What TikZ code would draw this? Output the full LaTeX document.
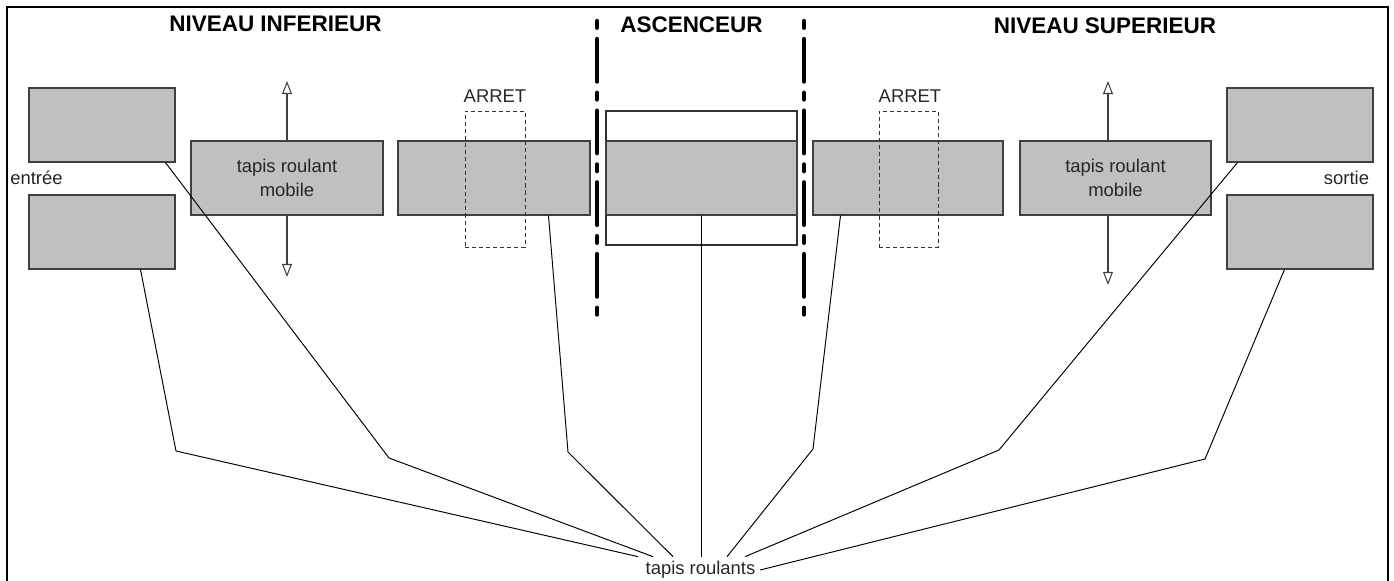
\documentclass[tikz,border=0pt]{standalone}
\usepackage{fontspec}
\setmainfont{Liberation Sans}
\usetikzlibrary{calc,arrows.meta}
\definecolor{beltgrey}{RGB}{192,192,192}
\definecolor{edgegrey}{RGB}{64,64,64}
\begin{document}
\begin{tikzpicture}[
    x=0.02cm, y=-0.02cm,
    belt/.style={rectangle, draw=edgegrey, fill=beltgrey, line width=0.6pt,
        minimum height=1.48cm, inner sep=0pt, align=center, text=black!85,
        font=\fontsize{10.5}{13.5}\selectfont},
    stopzone/.style={rectangle, draw=black!80, dash pattern=on 2.3pt off 1.7pt,
        line width=0.55pt, minimum width=1.2cm, minimum height=2.72cm, inner sep=0pt},
    cabin/.style={rectangle, draw=black!80, fill=white, line width=0.6pt,
        minimum width=3.82cm, minimum height=2.68cm, inner sep=0pt},
    level/.style={font=\bfseries\fontsize{12.8}{15}\selectfont, inner sep=0pt},
    tag/.style={font=\fontsize{10.5}{13.5}\selectfont, text=black!85, inner sep=0pt},
    wall/.style={line width=2.4pt, line cap=round,
        dash pattern=on 3.9pt off 6.3pt on 24.3pt off 6.3pt},
    link/.style={line width=0.55pt},
    move/.style={draw=edgegrey, line width=0.6pt,
        -{Triangle[open, length=7.4pt, width=5.6pt]}},
]
\useasboundingbox (0,0) rectangle (1394,581);
\draw[line width=1.1pt] (7,581) -- (7,7) -- (1388,7) -- (1388,581);

\node[level] (lowlevel) at (275.5,24) {NIVEAU INFERIEUR};
\node[level] (liftlevel) at (691.5,25) {ASCENCEUR};
\node[level] (highlevel) at (1105,26) {NIVEAU SUPERIEUR};

\node[belt, minimum width=2.92cm] (entreeA) at (102,125) {};
\node[belt, minimum width=2.92cm] (entreeB) at (102,232) {};
\node[tag] (entree) at (36.5,178) {entrée};
\node[belt, minimum width=3.84cm] (mobileL) at (287,178) {tapis roulant\\mobile};
\node[belt, minimum width=3.84cm] (beltL) at (494,178) {};
\node[stopzone] (stopL) at (495,179) {};
\node[tag] (arretL) at (495,96) {ARRET};

\node[cabin] (cabin) at (701.5,178) {};
\node[belt, minimum width=3.82cm] (lift) at (701.5,178) {};

\node[belt, minimum width=3.8cm] (beltR) at (908,178) {};
\node[stopzone, minimum width=1.18cm] (stopR) at (908.5,179) {};
\node[tag] (arretR) at (910,96) {ARRET};
\node[belt, minimum width=3.82cm] (mobileR) at (1115.5,178) {tapis roulant\\mobile};
\node[belt, minimum width=2.92cm] (sortieA) at (1300,125) {};
\node[belt, minimum width=2.92cm] (sortieB) at (1300,232) {};
\node[tag] (sortie) at (1346.5,178) {sortie};

\node[tag, inner sep=2.5pt] (tapis) at (700.5,570) {tapis roulants};

\draw[wall] (597,21) -- (597,322);
\draw[wall] (804,21) -- (804,322);

\coordinate (upL) at (287,81);
\coordinate (downL) at (287,277);
\coordinate (upR) at (1108,81);
\coordinate (downR) at (1108,285);
\draw[move] (mobileL.north) -- (upL);
\draw[move] (mobileL.south) -- (downL);
\draw[move] (mobileR.north -| upR) -- (upR);
\draw[move] (mobileR.south -| downR) -- (downR);

\draw[link] ($(entreeB.south west)+(112,0)$) -- (176,451) -- ($(tapis.north)+(-62.5,0)$);
\draw[link] ($(entreeA.south west)+(137,0)$) -- (389,458) -- ($(tapis.north)+(-47.5,0)$);
\draw[link] ($(beltL.south west)+(151,0)$) -- (568,452) -- ($(tapis.north)+(-27.5,0)$);
\draw[link] (lift.south) -- (lift.south |- tapis.north);
\draw[link] ($(beltR.south west)+(28,0)$) -- (813,449) -- ($(tapis.north)+(26.5,0)$);
\draw[link] ($(sortieA.south west)+(11,0)$) -- (999,450) -- ($(tapis.north)+(44.5,0)$);
\draw[link] ($(sortieB.south west)+(58,0)$) -- (1205,459) -- (tapis.east);
\end{tikzpicture}
\end{document}
